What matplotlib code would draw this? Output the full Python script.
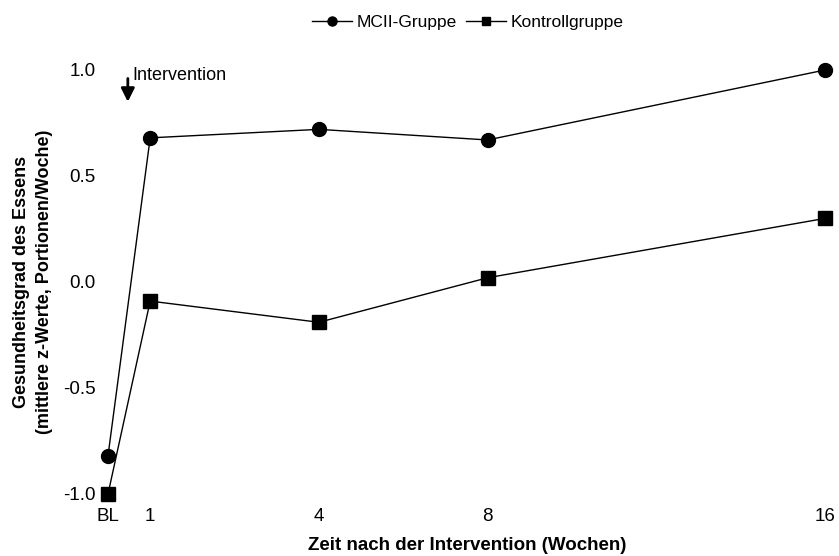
import matplotlib
matplotlib.use("Agg")
import matplotlib.pyplot as plt

plt.rcParams['font.family'] = ['Liberation Sans', 'DejaVu Sans']

# Daten
zeitpunkte = ["BL", "1", "4", "8", "16"]
x_pos = [0, 1, 5, 9, 17]
mcii = [-0.82, 0.68, 0.72, 0.67, 1.0]
kontrolle = [-1.0, -0.09, -0.19, 0.02, 0.30]
y_ticks = [-1.0, -0.5, 0.0, 0.5, 1.0]

fig = plt.figure(figsize=(8.39, 5.56), dpi=100)
# Achsenbereich so, dass BL bei ~108px und 16 bei ~825px liegt
ax = fig.add_axes([108/839, 1 - 494/556, (825-108)/839, (494-70)/556])

ax.plot(x_pos, mcii, color='black', lw=1.0, marker='o', ms=10,
        clip_on=False, label='MCII-Gruppe')
ax.plot(x_pos, kontrolle, color='black', lw=1.0, marker='s', ms=9.5,
        clip_on=False, label='Kontrollgruppe')

ax.set_xlim(0, 17)
ax.set_ylim(-1.0, 1.0)
for s in ax.spines.values():
    s.set_visible(False)

ax.set_xticks(x_pos)
ax.set_xticklabels(zeitpunkte)
ax.set_yticks(y_ticks)
ax.set_yticklabels([f"{v:.1f}" for v in y_ticks])
ax.tick_params(axis='both', length=0, labelsize=13.5)
ax.tick_params(axis='y', pad=9)
ax.tick_params(axis='x', pad=10)

# Achsenbeschriftungen
fig.text(467/839, 1 - 545/556, 'Zeit nach der Intervention (Wochen)',
         fontsize=13.5, fontweight='bold', ha='center', va='center')
fig.text(33/839, 1 - 282/556,
         'Gesundheitsgrad des Essens\n(mittlere z-Werte, Portionen/Woche)',
         fontsize=13, fontweight='bold', rotation=90, ha='center',
         va='center', multialignment='center', linespacing=1.45)

# Pfeil fuer den Beginn der Intervention
ax.annotate('', xy=(0.47, 0.85), xytext=(0.47, 0.96),
            arrowprops=dict(arrowstyle='-|>', color='black', lw=2.0,
                            mutation_scale=20, shrinkA=0, shrinkB=0),
            annotation_clip=False)
ax.text(0.58, 0.975, 'Intervention', fontsize=13, va='center', ha='left')

fig.legend(loc='center', bbox_to_anchor=(468/839, 1 - 22/556), ncol=2,
           frameon=False, fontsize=12.5, handlelength=2.3, handletextpad=0.3,
           columnspacing=0.5, markerscale=0.65)

fig.savefig('out.png', dpi=100)
